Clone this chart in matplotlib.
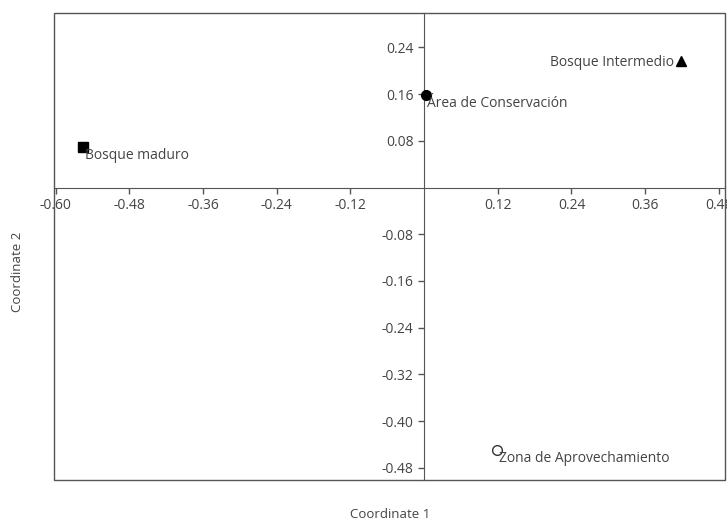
import matplotlib.pyplot as plt
from matplotlib.patches import Rectangle

names = ['Bosque maduro', 'Bosque Intermedio', 'Área de Conservación', 'Zona de Aprovechamiento']
coord1 = [-0.555, 0.419, 0.003, 0.119]
coord2 = [0.069, 0.217, 0.158, -0.450]
markers = ['s', '^', 'o', 'o']
filled = [True, True, True, False]

xticks = [-0.60, -0.48, -0.36, -0.24, -0.12, 0.12, 0.24, 0.36, 0.48]
yticks = [0.24, 0.16, 0.08, -0.08, -0.16, -0.24, -0.32, -0.40, -0.48]

plt.rcParams['font.family'] = ['Open Sans', 'DejaVu Sans']
fig = plt.figure(figsize=(7.27, 5.2), dpi=100)
ax = fig.add_axes([54 / 727, 40 / 520, 671 / 727, 467 / 520])

txt = '#444444'
line = '#555555'

for x, y, m, f in zip(coord1, coord2, markers, filled):
    ax.plot(x, y, marker=m, linestyle='none', markersize=7 if m != '^' else 6.5,
            markerfacecolor='black' if f else 'white', markeredgecolor='black' if f else '#333333',
            markeredgewidth=1.0, zorder=3)

# labels next to points
for n, x, y in zip(names, coord1, coord2):
    if n == 'Bosque Intermedio':
        ax.annotate(n, (x, y), xytext=(-5, -1), textcoords='offset points',
                    ha='right', va='center', fontsize=10, color=txt)
    else:
        ax.annotate(n, (x, y), xytext=(1, -6), textcoords='offset points',
                    ha='left', va='center', fontsize=10, color=txt)

ax.set_xlim(-0.6026, 0.490)
ax.set_ylim(-0.501, 0.299)

for s in ['top', 'right']:
    ax.spines[s].set_visible(False)
ax.spines['left'].set_position(('data', 0))
ax.spines['bottom'].set_position(('data', 0))
ax.spines['left'].set_color(line)
ax.spines['bottom'].set_color(line)
ax.add_patch(Rectangle((0, 0), 1, 1, transform=ax.transAxes, fill=False,
                       edgecolor=line, linewidth=1.0, clip_on=False, zorder=4))

ax.set_xticks(xticks)
ax.set_xticklabels([f'{v:.2f}' for v in xticks])
ax.set_yticks(yticks)
ax.set_yticklabels([f'{v:.2f}' for v in yticks])
ax.tick_params(axis='both', labelsize=10, labelcolor=txt, color=line, length=4, width=1)
ax.tick_params(axis='x', direction='out')

fig.text(390 / 727, 1 - 514 / 520, 'Coordinate 1', ha='center', va='center', fontsize=9.5, color=txt)
fig.text(18 / 727, 1 - 272 / 520, 'Coordinate 2', ha='center', va='center', rotation=90,
         fontsize=9.5, color=txt)

fig.savefig('out.png', dpi=100)
